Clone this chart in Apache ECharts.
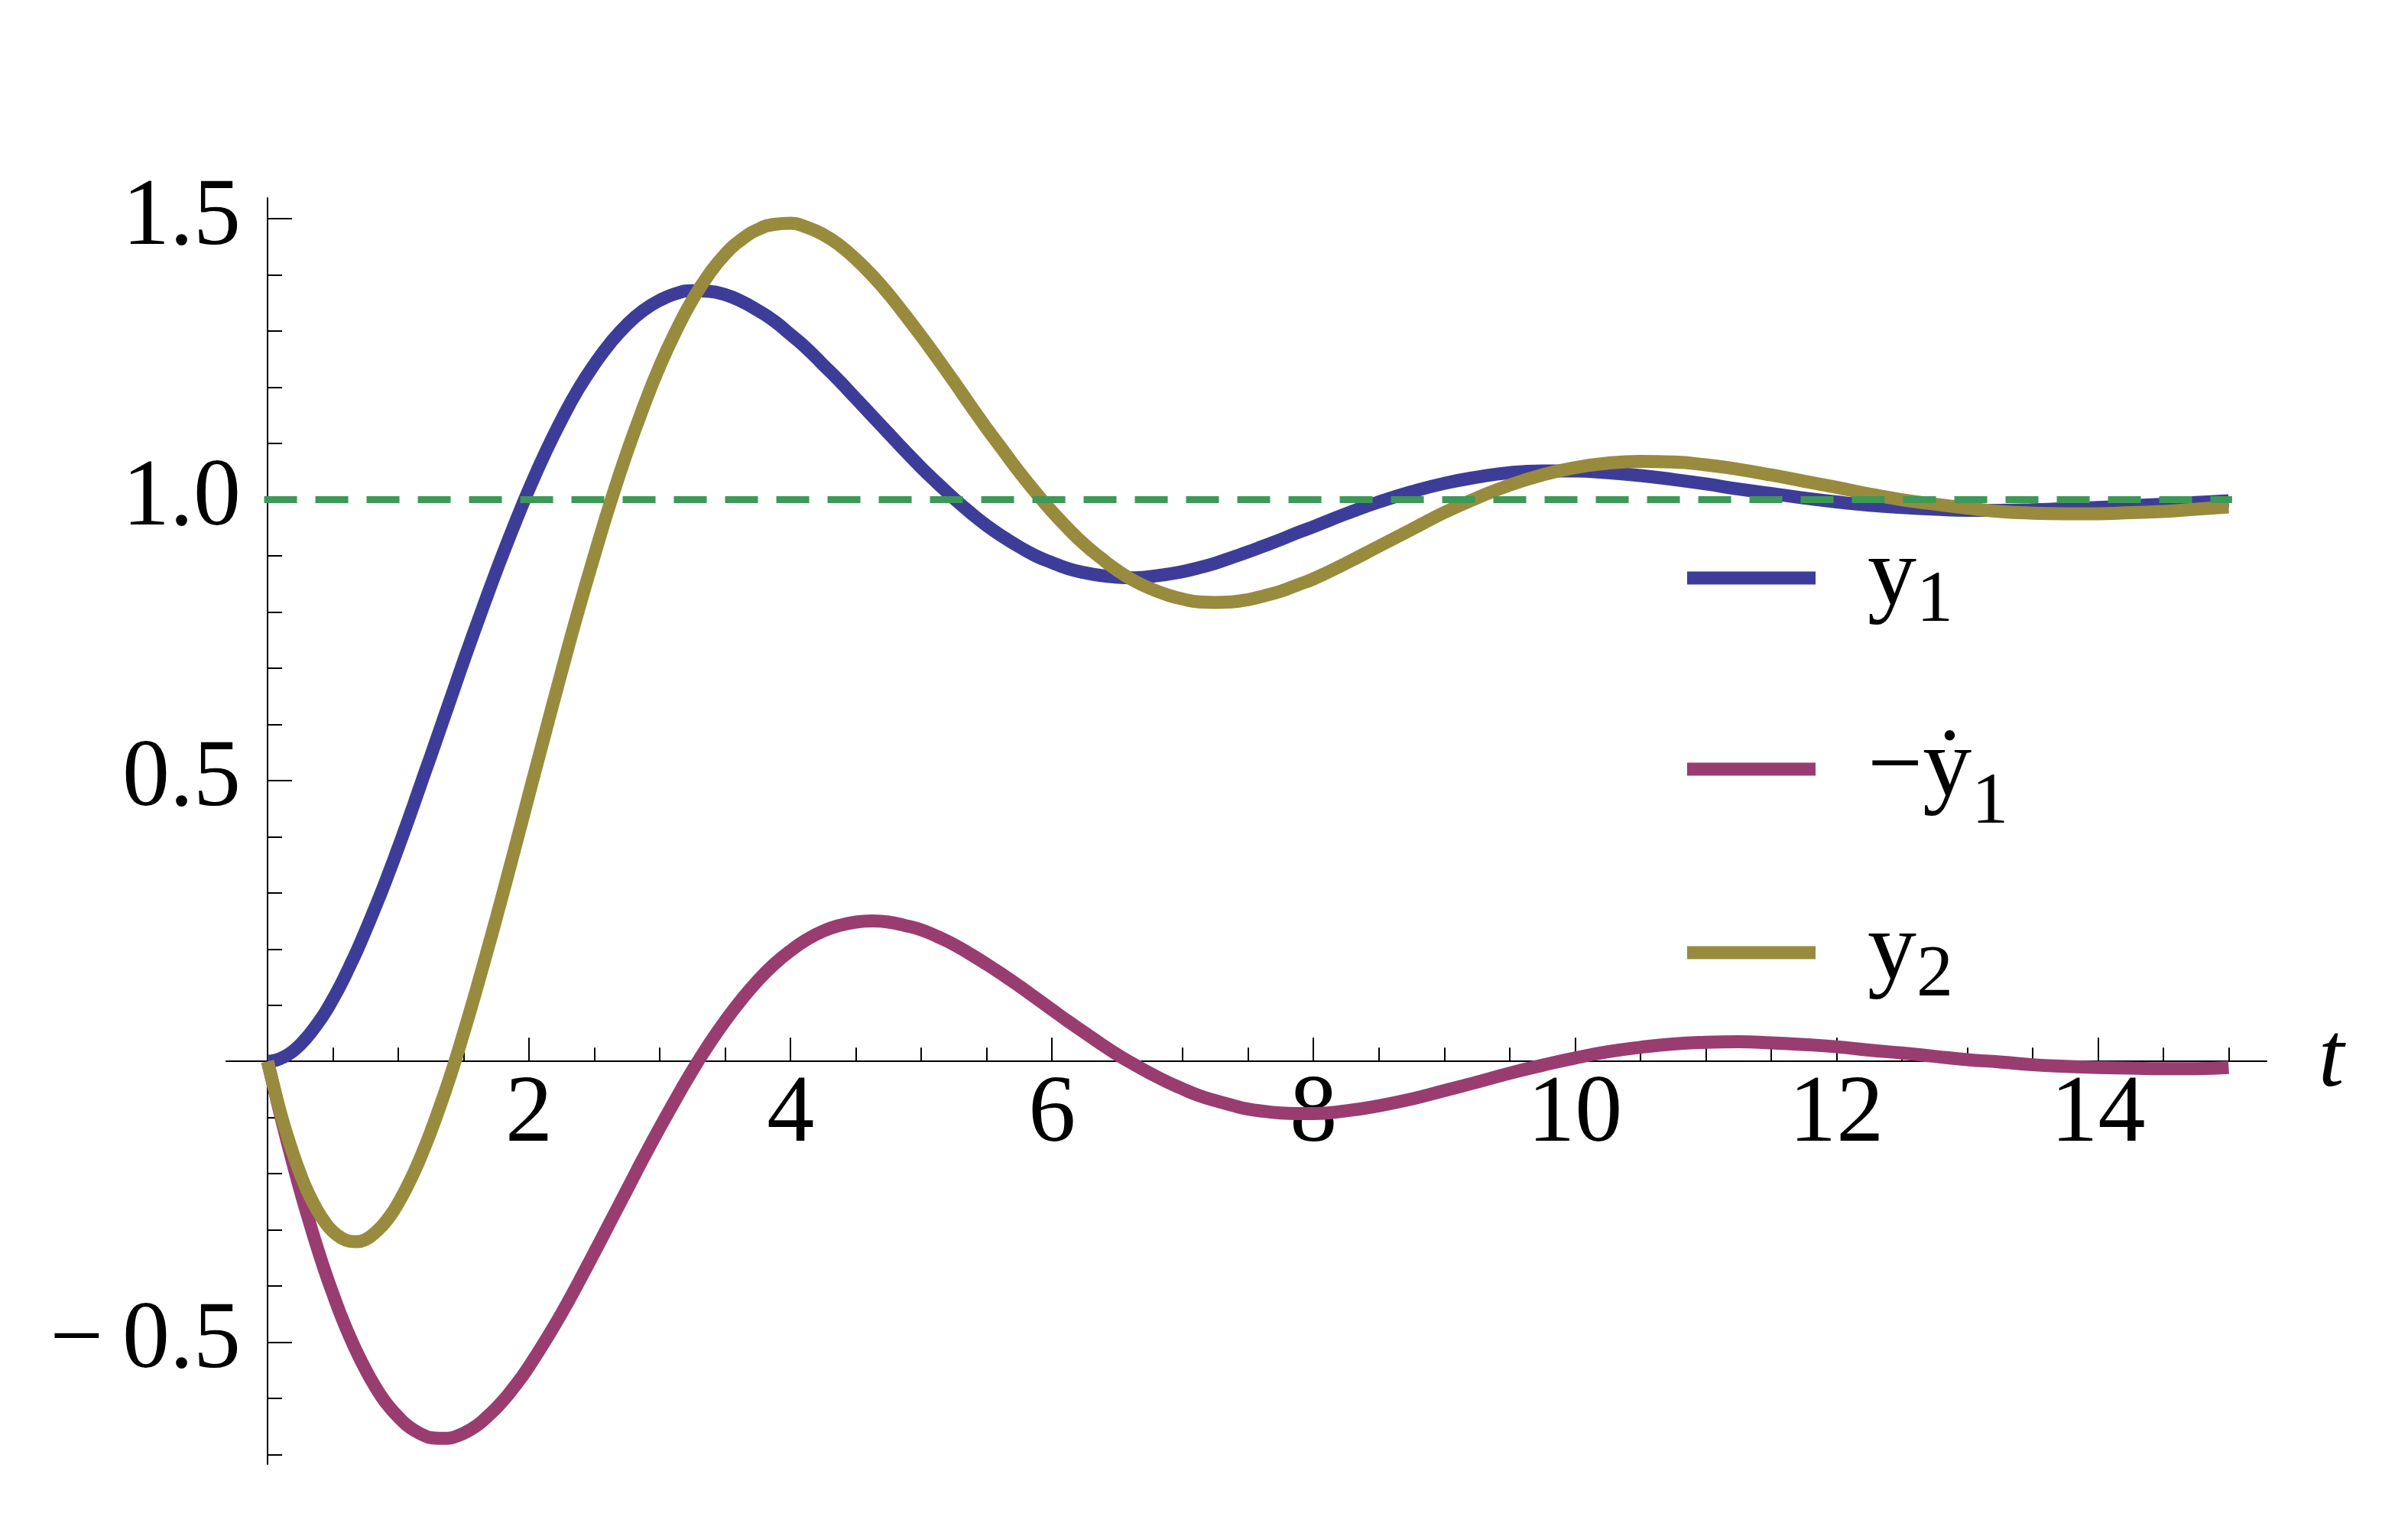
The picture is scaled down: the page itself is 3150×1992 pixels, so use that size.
<!DOCTYPE html>
<html><head><meta charset="utf-8">
<script src="https://cdn.jsdelivr.net/npm/echarts@6/dist/echarts.min.js"></script>
<style>html,body{margin:0;padding:0;background:#fff}#c{width:3150px;height:1992px}</style>
</head><body><div id="c"></div>
<script>
// ---- data ----
const tVals = [0,0.0625,0.125,0.1875,0.25,0.3125,0.375,0.4375,0.5,0.5625,0.625,0.6875,0.75,0.8125,0.875,0.9375,1,1.0625,1.125,1.1875,1.25,1.3125,1.375,1.4375,1.5,1.5625,1.625,1.6875,1.75,1.8125,1.875,1.9375,2,
  2.125,2.25,2.375,2.5,2.625,2.75,2.875,3,3.125,3.25,3.375,3.5,3.625,3.75,3.875,4,4.125,4.25,4.375,4.5,4.625,4.75,4.875,5,5.125,5.25,5.375,5.5,5.625,5.75,5.875,6,6.125,6.25,6.375,6.5,6.625,6.75,6.875,7,7.125,7.25,7.375,7.5,7.625,7.75,7.875,8,
  8.25,8.5,8.75,9,9.25,9.5,9.75,10,10.25,10.5,10.75,11,11.25,11.5,11.75,12,12.25,12.5,12.75,13,13.25,13.5,13.75,14,14.25,14.5,14.75,15];
const y1Vals = [0,0.002,0.008,0.017,0.030,0.046,0.065,0.086,0.111,0.138,0.168,0.199,0.233,0.268,0.304,0.342,0.381,0.421,0.462,0.504,0.545,0.587,0.629,0.671,0.713,0.754,0.794,0.834,0.873,0.911,0.948,0.984,1.019,
  1.084,1.143,1.196,1.241,1.280,1.312,1.337,1.355,1.367,1.372,1.371,1.365,1.353,1.337,1.318,1.294,1.269,1.240,1.211,1.180,1.149,1.118,1.087,1.057,1.029,1.002,0.977,0.954,0.934,0.916,0.900,0.888,0.877,0.870,0.865,0.862,0.861,0.863,0.867,0.872,0.879,0.887,0.897,0.907,0.918,0.929,0.941,0.952,
  0.975,0.996,1.014,1.029,1.040,1.048,1.051,1.051,1.048,1.043,1.036,1.028,1.019,1.011,1.003,0.996,0.990,0.986,0.983,0.981,0.981,0.982,0.984,0.986,0.989,0.992,0.995,0.998];
const negDy1Vals = [0,-0.061,-0.120,-0.176,-0.230,-0.280,-0.328,-0.373,-0.414,-0.453,-0.488,-0.520,-0.549,-0.575,-0.598,-0.617,-0.633,-0.647,-0.657,-0.665,-0.670,-0.671,-0.671,-0.668,-0.662,-0.654,-0.644,-0.631,-0.617,-0.601,-0.583,-0.564,-0.543,
  -0.497,-0.448,-0.395,-0.340,-0.284,-0.228,-0.172,-0.118,-0.066,-0.016,0.030,0.072,0.110,0.144,0.173,0.197,0.217,0.232,0.242,0.248,0.250,0.248,0.242,0.234,0.222,0.208,0.191,0.173,0.154,0.134,0.113,0.092,0.071,0.051,0.031,0.012,-0.005,-0.021,-0.036,-0.049,-0.061,-0.070,-0.078,-0.085,-0.089,-0.092,-0.093,-0.093,
  -0.088,-0.079,-0.067,-0.052,-0.037,-0.021,-0.007,0.006,0.017,0.025,0.031,0.034,0.035,0.033,0.030,0.026,0.020,0.015,0.009,0.003,-0.001,-0.006,-0.009,-0.011,-0.012,-0.013,-0.013,-0.011];
const y2Vals = [0,-0.059,-0.113,-0.159,-0.200,-0.235,-0.263,-0.286,-0.303,-0.314,-0.320,-0.321,-0.317,-0.307,-0.293,-0.275,-0.252,-0.225,-0.195,-0.161,-0.124,-0.084,-0.042,0.003,0.051,0.100,0.151,0.203,0.256,0.310,0.365,0.420,0.476,
  0.586,0.695,0.801,0.901,0.997,1.085,1.165,1.238,1.301,1.356,1.401,1.437,1.463,1.481,1.490,1.492,1.485,1.472,1.453,1.428,1.399,1.366,1.329,1.291,1.251,1.210,1.168,1.127,1.088,1.049,1.013,0.979,0.948,0.920,0.896,0.874,0.856,0.842,0.831,0.823,0.818,0.817,0.818,0.822,0.829,0.837,0.848,0.859,
  0.887,0.917,0.947,0.977,1.003,1.026,1.044,1.057,1.065,1.068,1.067,1.062,1.054,1.044,1.033,1.022,1.010,1.000,0.992,0.985,0.979,0.976,0.975,0.975,0.977,0.979,0.983,0.987];
const refT = [0, 15];
const refV = [1, 1];
const xMajorTicks = [2,4,6,8,10,12,14];
const xMinorTicks = [0.5,1,1.5,2.5,3,3.5,4.5,5,5.5,6.5,7,7.5,8.5,9,9.5,10.5,11,11.5,12.5,13,13.5,14.5,15];
const yMajorTicks = [-0.5,0.5,1.0,1.5];
const yMinorTicks = [-0.7,-0.6,-0.4,-0.3,-0.2,-0.1,0.1,0.2,0.3,0.4,0.6,0.7,0.8,0.9,1.1,1.2,1.3,1.4];
const seriesNames = ['y1','ndy1','y2'];
const legendLabels = ['{g|}{m|y}{s|1}', '{g|}{m|\u2212\u1E8F}{s2|1}', '{g|}{m|y}{s|2}'];

// ---- layout / styling ----
const W = 3150, H = 1992;
const FONT = 'Liberation Serif';
const COLORS = ['#3d3d99', '#993d71', '#998b3d'];
const REF_COLOR = '#3d9956';
const X_MIN = -0.316, X_MAX = 15.29, Y_MIN = -0.717, Y_MAX = 1.537;
const G = {left: 296, right: 185, top: 259, bottom: 77};
const plotW = W - G.left - G.right, plotH = H - G.top - G.bottom;
const X0PX = G.left + (0 - X_MIN) / (X_MAX - X_MIN) * plotW;   // pixel of t = 0
const Y0PX = G.top + (Y_MAX - 0) / (Y_MAX - Y_MIN) * plotH;    // pixel of value 0
const legendTops = [677, 913, 1167];

const pairs = arr => tVals.map((t, i) => [t, arr[i]]);
const fmtY = v => (v < 0 ? '\u2212\u2009' + Math.abs(v).toFixed(1) : v.toFixed(1));
const axisLineStyle = {color: '#000', width: 2};

const rich = {
  g: {width: 63},
  m: {fontFamily: FONT, fontSize: 128, lineHeight: 160, color: '#000'},
  s: {fontFamily: FONT, fontSize: 96, lineHeight: 96, padding: [62, 0, 0, 0], color: '#000'},
  s2: {fontFamily: FONT, fontSize: 96, lineHeight: 96, padding: [90, 0, 0, 0], color: '#000'}
};

const hidden = {show: false, axisLine: {show: false}, axisTick: {show: false}, axisLabel: {show: false}, splitLine: {show: false}};

const chart = echarts.init(document.getElementById('c'), null, {renderer: 'canvas'});
const option = {
  animation: false,
  backgroundColor: '#fff',
  grid: [
    Object.assign({containLabel: false, outerBoundsMode: 'none'}, G),
    {left: G.left, right: G.right, top: G.top, bottom: H - Y0PX, containLabel: false, outerBoundsMode: 'none'},
    {left: X0PX, right: G.right, top: G.top, bottom: G.bottom, containLabel: false, outerBoundsMode: 'none'}
  ],
  xAxis: [
    Object.assign({type: 'value', gridIndex: 0, min: X_MIN, max: X_MAX}, hidden),
    {
      type: 'value', gridIndex: 1, min: X_MIN, max: X_MAX, position: 'bottom',
      axisLine: {show: true, onZero: false, lineStyle: axisLineStyle},
      axisTick: {show: true, inside: true, length: 31, customValues: xMajorTicks, lineStyle: axisLineStyle},
      axisLabel: {show: true, customValues: xMajorTicks, margin: 9, fontFamily: FONT, fontSize: 124, color: '#000'},
      splitLine: {show: false},
      name: 't', nameLocation: 'end', nameGap: 68,
      nameTextStyle: {fontFamily: FONT, fontStyle: 'italic', fontSize: 120, color: '#000', padding: [0, 0, 36, 0]}
    },
    {
      type: 'value', gridIndex: 1, min: X_MIN, max: X_MAX, position: 'bottom',
      axisLine: {show: false, onZero: false},
      axisTick: {show: true, inside: true, length: 18, customValues: xMinorTicks, lineStyle: axisLineStyle},
      axisLabel: {show: false}, splitLine: {show: false}
    },
    Object.assign({type: 'value', gridIndex: 2, min: 0, max: 1}, hidden)
  ],
  yAxis: [
    Object.assign({type: 'value', gridIndex: 0, min: Y_MIN, max: Y_MAX}, hidden),
    Object.assign({type: 'value', gridIndex: 1, min: 0, max: 1}, hidden),
    {
      type: 'value', gridIndex: 2, min: Y_MIN, max: Y_MAX, position: 'left',
      axisLine: {show: true, onZero: false, lineStyle: axisLineStyle},
      axisTick: {show: true, inside: true, length: 32, customValues: yMajorTicks, lineStyle: axisLineStyle},
      axisLabel: {show: true, customValues: yMajorTicks, margin: 35, formatter: fmtY, fontFamily: FONT, fontSize: 124, color: '#000', padding: [0, 0, 64, 0]},
      splitLine: {show: false}
    },
    {
      type: 'value', gridIndex: 2, min: Y_MIN, max: Y_MAX, position: 'left',
      axisLine: {show: false, onZero: false},
      axisTick: {show: true, inside: true, length: 19, customValues: yMinorTicks, lineStyle: axisLineStyle},
      axisLabel: {show: false}, splitLine: {show: false}
    }
  ],
  legend: seriesNames.map((n, i) => ({
    data: [n], orient: 'vertical', left: 2207, top: legendTops[i], padding: 0,
    icon: 'rect', itemWidth: 168, itemHeight: 17, selectedMode: false,
    itemStyle: {borderWidth: 0, borderColor: 'transparent'},
    formatter: () => legendLabels[i],
    textStyle: {rich: rich}
  })),
  series: [
    {name: seriesNames[0], data: pairs(y1Vals)},
    {name: seriesNames[1], data: pairs(negDy1Vals)},
    {name: seriesNames[2], data: pairs(y2Vals)}
  ].map((s, i) => Object.assign(s, {
    type: 'line', xAxisIndex: 0, yAxisIndex: 0, showSymbol: false, symbol: 'none',
    smooth: 0.5, silent: true,
    itemStyle: {color: COLORS[i]},
    lineStyle: {color: COLORS[i], width: 17}
  })).concat([{
    name: 'ref', type: 'line', xAxisIndex: 0, yAxisIndex: 0, showSymbol: false, symbol: 'none', silent: true,
    data: refT.map((t, i) => [t, refV[i]]),
    lineStyle: {color: REF_COLOR, width: 9, type: [34, 33], cap: 'square'},
    z: 3
  }])
};
chart.setOption(option);
</script>
</body></html>
